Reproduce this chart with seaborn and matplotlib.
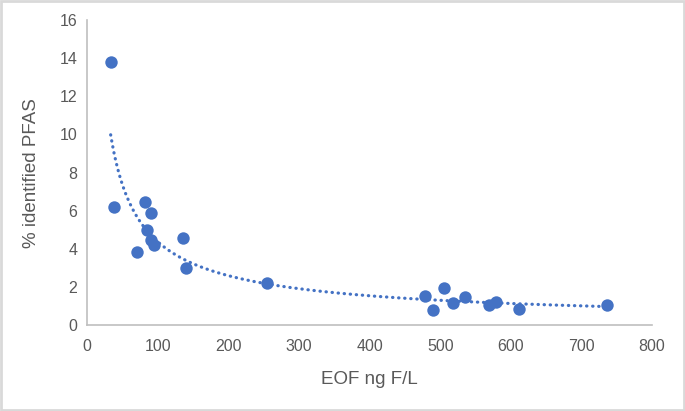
import numpy as np
import pandas as pd
import matplotlib
matplotlib.use("Agg")
import matplotlib.pyplot as plt
from matplotlib.patches import Rectangle
import seaborn as sns

# values
eof = [33.5, 38.4, 71.3, 82.5, 89.9, 85.6, 91.2, 94.3, 135.8, 139.5, 255.5,
       478.1, 489.3, 505.4, 517.8, 534.6, 568.7, 578.6, 611.5, 736.7]
pfas = [13.82, 6.21, 3.83, 6.44, 5.89, 4.98, 4.48, 4.18, 4.59, 3.01, 2.22,
        1.53, 0.79, 1.97, 1.18, 1.49, 1.07, 1.23, 0.86, 1.04]
xticks = [0, 100, 200, 300, 400, 500, 600, 700, 800]
yticks = [0, 2, 4, 6, 8, 10, 12, 14, 16]

blue = "#4472C4"
grey_txt = "#595959"

sns.set_style("white")
plt.rcParams['font.family'] = ['Liberation Sans', 'DejaVu Sans']

d = pd.DataFrame({'EOF': eof, 'PFAS': pfas})

# power trendline like excel: ln y = ln a + b ln x
b, lna = np.polyfit(np.log(d.EOF), np.log(d.PFAS), 1)
xs = np.linspace(d.EOF.min(), d.EOF.max(), 300)
trend = pd.DataFrame({'EOF': xs, 'PFAS': np.exp(lna) * xs ** b})

fig = plt.figure(figsize=(6.85, 4.11), dpi=100)
ax = fig.add_axes([0.127, 0.209, 0.825, 0.742])

sns.lineplot(x='EOF', y='PFAS', data=trend, ax=ax, color=blue, lw=2.3,
             linestyle=(0, (0.1, 1.8)), dash_capstyle='round')
sns.scatterplot(x='EOF', y='PFAS', data=d, ax=ax, color=blue, s=80,
                linewidth=0, zorder=3)

ax.set(xlim=(0, 800), ylim=(0, 16))
ax.set_xticks(xticks)
ax.set_yticks(yticks)
ax.tick_params(length=0, labelsize=11.5, labelcolor=grey_txt)
ax.tick_params(axis='x', pad=10)
ax.tick_params(axis='y', pad=7)
for s in ['top', 'right']:
    ax.spines[s].set_visible(False)
for s in ['left', 'bottom']:
    ax.spines[s].set_color('#BFBFBF')
    ax.spines[s].set_linewidth(1.2)

ax.set_xlabel("EOF ng F/L", size=13.5, color=grey_txt, labelpad=12)
ax.set_ylabel("% identified PFAS", size=13.5, color=grey_txt, labelpad=14)

fig.patches.append(Rectangle((0.002, 0.003), 0.996, 0.994, transform=fig.transFigure,
                             fill=False, edgecolor='#D9D9D9', lw=2))

fig.savefig("out.png", dpi=100)
